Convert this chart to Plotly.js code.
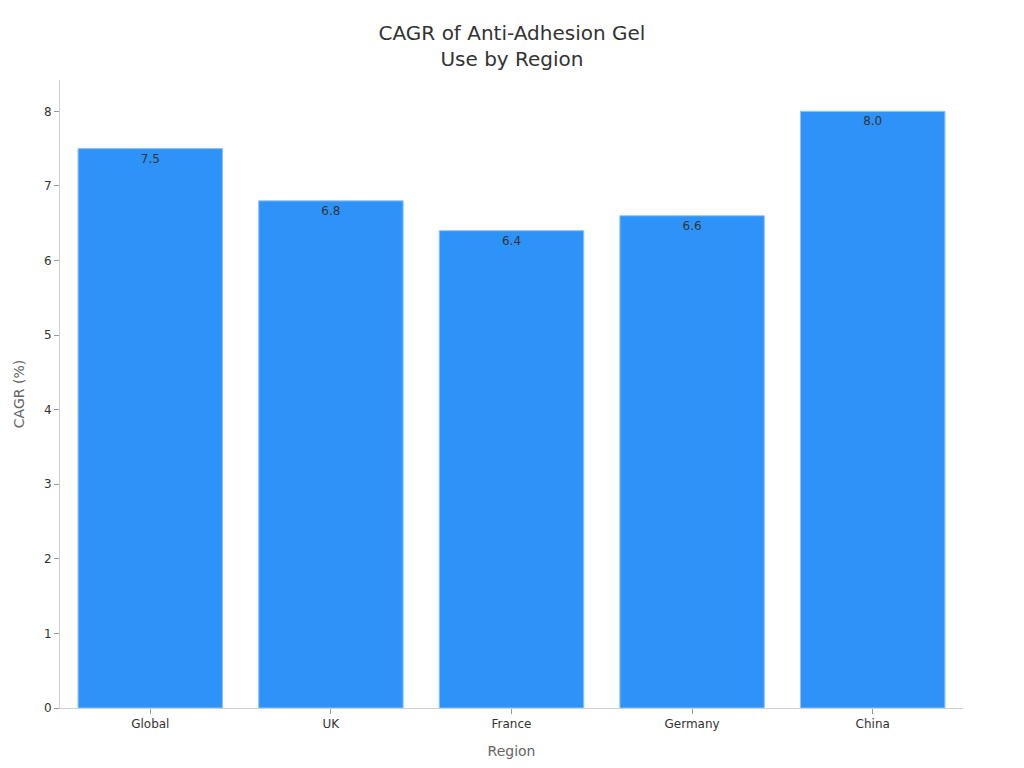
<!DOCTYPE html>
<html>
<head>
<meta charset="utf-8">
<script src="https://cdn.plot.ly/plotly-3.0.1.min.js"></script>
<style>
  html, body { margin: 0; padding: 0; background: #fff; }
  #chart { width: 1024px; height: 768px; }
</style>
</head>
<body>
<div id="chart"></div>
<script>
// CAGR by region
var regions = ['Global', 'UK', 'France', 'Germany', 'China'];
var cagrValues = [7.5, 6.8, 6.4, 6.6, 8.0];

var trace1 = {
  x: regions,
  y: cagrValues,
  type: 'bar',
  text: cagrValues.map(function (v) { return v.toFixed(1); }),
  textposition: 'inside',
  insidetextanchor: 'end',
  textfont: { color: '#333333', size: 12 },
  hoverinfo: 'x+y',
  marker: {
    color: '#2E93F8',
    line: { color: '#8CC4FA', width: 1 }
  }
};

var layout = {
  width: 1024,
  height: 768,
  font: { family: 'DejaVu Sans, sans-serif', color: '#333333' },
  title: {
    text: 'CAGR of Anti-Adhesion Gel<br>Use by Region',
    x: 0.5,
    xanchor: 'center',
    y: 0.948,
    font: { size: 20, color: '#333333' }
  },
  bargap: 0.2,
  showlegend: false,
  xaxis: {
    title: { text: 'Region', font: { size: 14, color: '#666666' }, standoff: 15 },
    showline: true,
    linecolor: '#d0d0d0',
    ticks: 'outside',
    tickcolor: '#999999',
    ticklen: 5,
    tickfont: { size: 12, color: '#333333' },
    showgrid: false
  },
  yaxis: {
    title: { text: 'CAGR (%)', font: { size: 14, color: '#666666' }, standoff: 16 },
    showline: true,
    linecolor: '#d0d0d0',
    ticks: 'outside',
    tickcolor: '#999999',
    ticklen: 5,
    tickfont: { size: 12, color: '#333333' },
    showgrid: false,
    zeroline: false,
    dtick: 1,
    range: [0, 8.42]
  },
  margin: { t: 80, r: 61, b: 60, l: 60 },
  plot_bgcolor: '#ffffff',
  paper_bgcolor: '#ffffff'
};

var config = { responsive: false, displayModeBar: false };

Plotly.newPlot('chart', [trace1], layout, config);
</script>
</body>
</html>
